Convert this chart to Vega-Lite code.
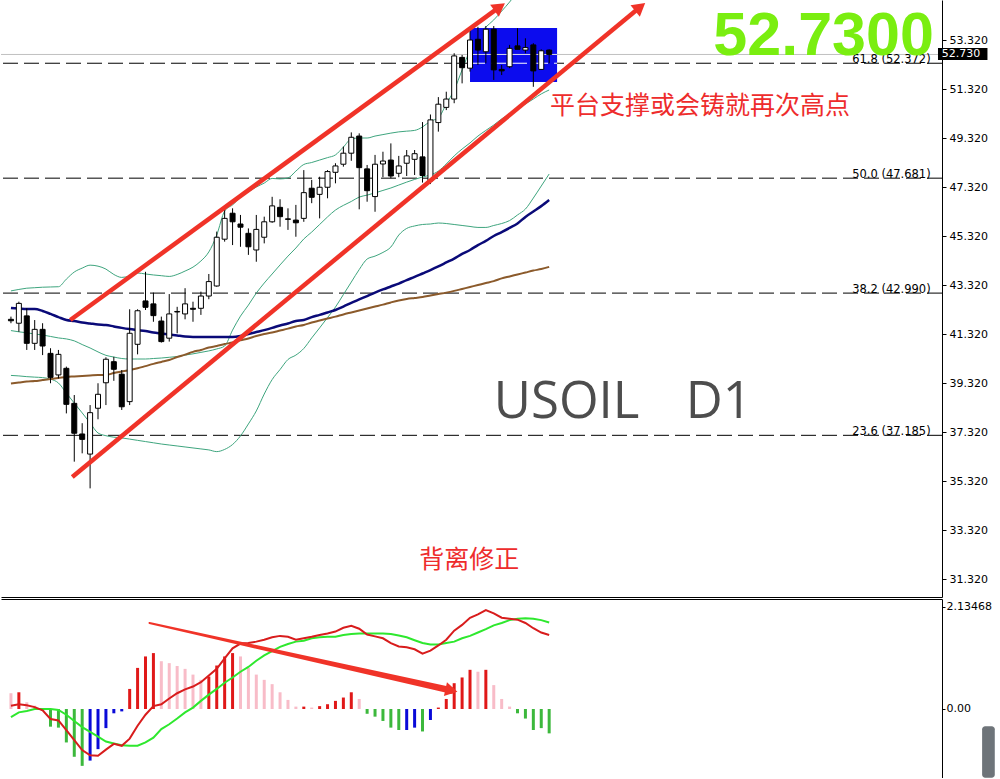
{
"$schema": "https://vega.github.io/schema/vega-lite/v6.json",
"padding": 0,
"background": "white",
"spacing": 2,
"config": {"view": {"stroke": null}, "font": "DejaVu Sans", "axis": {"grid": false}},
"datasets": {
"bars": [
{"i":0,"o":41.92,"h":42.03,"l":41.76,"c":41.86,"n":42.38,"b":39.30,"u":43.08,"m":41.46,"d":39.63,"macd":0.07,"sig":-0.17,"hist":0.33,"hc":"posDown"},
{"i":1,"o":41.76,"h":42.64,"l":41.41,"c":42.57,"n":42.36,"b":39.34,"u":43.14,"m":41.41,"d":39.61,"macd":0.10,"sig":-0.07,"hist":0.35,"hc":"posUp"},
{"i":2,"o":42.06,"h":42.37,"l":40.67,"c":40.94,"n":42.34,"b":39.38,"u":43.19,"m":41.37,"d":39.58,"macd":0.08,"sig":-0.04,"hist":0.14,"hc":"posDown"},
{"i":3,"o":40.94,"h":41.89,"l":40.67,"c":41.51,"n":42.34,"b":39.40,"u":43.21,"m":41.32,"d":39.56,"macd":0.04,"sig":0.00,"hist":0.07,"hc":"posDown"},
{"i":4,"o":41.51,"h":41.76,"l":40.46,"c":40.83,"n":42.26,"b":39.44,"u":43.23,"m":41.28,"d":39.54,"macd":-0.03,"sig":0.00,"hist":-0.04,"hc":"negDown"},
{"i":5,"o":40.53,"h":40.74,"l":39.31,"c":39.55,"n":42.14,"b":39.48,"u":43.24,"m":41.22,"d":39.48,"macd":-0.21,"sig":0.00,"hist":-0.37,"hc":"negDown"},
{"i":6,"o":39.65,"h":40.67,"l":39.51,"c":40.49,"n":42.01,"b":39.52,"u":43.25,"m":41.16,"d":39.32,"macd":-0.24,"sig":-0.02,"hist":-0.39,"hc":"negDown"},
{"i":7,"o":39.92,"h":39.99,"l":38.08,"c":38.45,"n":41.89,"b":39.57,"u":43.56,"m":41.12,"d":38.91,"macd":-0.44,"sig":-0.12,"hist":-0.70,"hc":"negDown"},
{"i":8,"o":38.49,"h":38.83,"l":36.11,"c":37.27,"n":41.85,"b":39.59,"u":43.85,"m":41.04,"d":38.50,"macd":-0.65,"sig":-0.25,"hist":-1.00,"hc":"negDown"},
{"i":9,"o":37.24,"h":37.68,"l":36.45,"c":37.02,"n":41.79,"b":39.61,"u":44.01,"m":40.89,"d":38.10,"macd":-0.86,"sig":-0.38,"hist":-1.19,"hc":"negDown"},
{"i":10,"o":36.42,"h":38.42,"l":35.02,"c":38.11,"n":41.75,"b":39.63,"u":44.13,"m":40.75,"d":37.69,"macd":-0.97,"sig":-0.48,"hist":-1.08,"hc":"negUp"},
{"i":11,"o":38.29,"h":39.31,"l":37.84,"c":38.86,"n":41.71,"b":39.65,"u":44.09,"m":40.59,"d":37.28,"macd":-0.98,"sig":-0.58,"hist":-0.84,"hc":"negUp"},
{"i":12,"o":39.33,"h":40.37,"l":38.42,"c":40.29,"n":41.69,"b":39.65,"u":43.97,"m":40.45,"d":37.17,"macd":-0.85,"sig":-0.68,"hist":-0.40,"hc":"negUp"},
{"i":13,"o":40.19,"h":40.39,"l":39.41,"c":39.88,"n":41.63,"b":39.73,"u":43.75,"m":40.38,"d":37.11,"macd":-0.73,"sig":-0.72,"hist":-0.09,"hc":"negUp"},
{"i":14,"o":39.68,"h":39.85,"l":38.22,"c":38.35,"n":41.57,"b":39.79,"u":43.63,"m":40.32,"d":37.08,"macd":-0.77,"sig":-0.76,"hist":-0.05,"hc":"negUp"},
{"i":15,"o":38.56,"h":42.33,"l":38.42,"c":41.35,"n":41.52,"b":39.85,"u":43.69,"m":40.30,"d":37.03,"macd":-0.62,"sig":-0.77,"hist":0.42,"hc":"posUp"},
{"i":16,"o":40.90,"h":42.33,"l":40.49,"c":42.27,"n":41.48,"b":39.92,"u":43.81,"m":40.30,"d":36.98,"macd":-0.35,"sig":-0.77,"hist":0.86,"hc":"posUp"},
{"i":17,"o":42.67,"h":43.86,"l":42.30,"c":42.41,"n":41.44,"b":40.01,"u":43.77,"m":40.30,"d":36.93,"macd":-0.12,"sig":-0.70,"hist":1.10,"hc":"posUp"},
{"i":18,"o":42.55,"h":43.01,"l":41.82,"c":42.07,"n":41.38,"b":40.10,"u":43.73,"m":40.32,"d":36.88,"macd":0.06,"sig":-0.60,"hist":1.17,"hc":"posUp"},
{"i":19,"o":41.85,"h":42.03,"l":40.97,"c":41.01,"n":41.34,"b":40.18,"u":43.70,"m":40.34,"d":36.83,"macd":0.10,"sig":-0.42,"hist":1.00,"hc":"posDown"},
{"i":20,"o":41.15,"h":42.95,"l":41.01,"c":42.14,"n":41.30,"b":40.26,"u":43.67,"m":40.37,"d":36.79,"macd":0.22,"sig":-0.32,"hist":0.96,"hc":"posDown"},
{"i":21,"o":42.22,"h":42.43,"l":41.35,"c":42.24,"n":41.26,"b":40.38,"u":43.75,"m":40.40,"d":36.75,"macd":0.33,"sig":-0.20,"hist":0.90,"hc":"posDown"},
{"i":22,"o":42.14,"h":43.19,"l":41.92,"c":42.55,"n":41.22,"b":40.48,"u":43.89,"m":40.46,"d":36.71,"macd":0.41,"sig":-0.07,"hist":0.84,"hc":"posDown"},
{"i":23,"o":42.37,"h":42.64,"l":41.82,"c":42.33,"n":41.20,"b":40.59,"u":44.05,"m":40.51,"d":36.67,"macd":0.47,"sig":0.03,"hist":0.72,"hc":"posDown"},
{"i":24,"o":42.37,"h":43.05,"l":42.10,"c":42.87,"n":41.20,"b":40.67,"u":44.30,"m":40.57,"d":36.63,"macd":0.56,"sig":0.17,"hist":0.61,"hc":"posDown"},
{"i":25,"o":42.87,"h":43.77,"l":42.74,"c":43.46,"n":41.20,"b":40.77,"u":44.67,"m":40.63,"d":36.59,"macd":0.70,"sig":0.30,"hist":0.68,"hc":"posUp"},
{"i":26,"o":43.28,"h":45.50,"l":43.25,"c":45.27,"n":41.20,"b":40.83,"u":45.36,"m":40.71,"d":36.52,"macd":0.84,"sig":0.42,"hist":0.91,"hc":"posUp"},
{"i":27,"o":45.19,"h":46.45,"l":45.09,"c":46.04,"n":41.20,"b":40.91,"u":46.34,"m":40.83,"d":36.61,"macd":1.06,"sig":0.55,"hist":1.10,"hc":"posUp"},
{"i":28,"o":46.25,"h":46.45,"l":44.95,"c":45.90,"n":41.20,"b":40.97,"u":46.59,"m":41.48,"d":36.81,"macd":1.27,"sig":0.66,"hist":1.17,"hc":"posUp"},
{"i":29,"o":45.81,"h":46.18,"l":44.88,"c":45.68,"n":41.24,"b":41.06,"u":46.89,"m":42.05,"d":37.16,"macd":1.37,"sig":0.78,"hist":1.10,"hc":"posDown"},
{"i":30,"o":45.43,"h":45.63,"l":44.55,"c":44.88,"n":41.32,"b":41.14,"u":47.12,"m":42.50,"d":37.65,"macd":1.38,"sig":0.88,"hist":0.86,"hc":"posDown"},
{"i":31,"o":44.75,"h":46.18,"l":44.27,"c":45.59,"n":41.40,"b":41.24,"u":47.32,"m":42.99,"d":38.18,"macd":1.41,"sig":1.01,"hist":0.72,"hc":"posDown"},
{"i":32,"o":45.27,"h":46.11,"l":45.02,"c":45.90,"n":41.48,"b":41.32,"u":47.48,"m":43.40,"d":38.87,"macd":1.45,"sig":1.12,"hist":0.61,"hc":"posDown"},
{"i":33,"o":45.90,"h":46.92,"l":45.86,"c":46.55,"n":41.57,"b":41.38,"u":47.67,"m":43.77,"d":39.46,"macd":1.50,"sig":1.21,"hist":0.52,"hc":"posDown"},
{"i":34,"o":46.49,"h":46.82,"l":45.70,"c":46.11,"n":41.67,"b":41.46,"u":47.65,"m":44.14,"d":39.87,"macd":1.53,"sig":1.30,"hist":0.35,"hc":"posDown"},
{"i":35,"o":46.02,"h":46.45,"l":45.57,"c":46.00,"n":41.75,"b":41.54,"u":47.69,"m":44.50,"d":40.28,"macd":1.51,"sig":1.36,"hist":0.19,"hc":"posDown"},
{"i":36,"o":45.97,"h":46.59,"l":45.29,"c":45.86,"n":41.85,"b":41.63,"u":47.97,"m":44.83,"d":40.46,"macd":1.45,"sig":1.41,"hist":0.05,"hc":"posDown"},
{"i":37,"o":46.04,"h":48.01,"l":45.90,"c":47.09,"n":41.89,"b":41.69,"u":48.24,"m":45.20,"d":40.73,"macd":1.48,"sig":1.43,"hist":0.05,"hc":"posUp"},
{"i":38,"o":47.27,"h":47.61,"l":46.66,"c":46.90,"n":42.01,"b":41.79,"u":48.32,"m":45.48,"d":41.16,"macd":1.51,"sig":1.48,"hist":0.03,"hc":"posDown"},
{"i":39,"o":47.02,"h":47.74,"l":46.04,"c":47.31,"n":42.10,"b":41.87,"u":48.42,"m":45.79,"d":41.57,"macd":1.55,"sig":1.50,"hist":0.06,"hc":"posUp"},
{"i":40,"o":47.31,"h":48.01,"l":46.86,"c":47.95,"n":42.20,"b":41.95,"u":48.52,"m":46.10,"d":41.99,"macd":1.58,"sig":1.51,"hist":0.10,"hc":"posUp"},
{"i":41,"o":47.92,"h":48.29,"l":47.47,"c":48.18,"n":42.30,"b":42.03,"u":48.63,"m":46.38,"d":42.42,"macd":1.62,"sig":1.51,"hist":0.17,"hc":"posUp"},
{"i":42,"o":48.25,"h":48.97,"l":48.15,"c":48.70,"n":42.44,"b":42.12,"u":48.95,"m":46.57,"d":42.93,"macd":1.70,"sig":1.55,"hist":0.24,"hc":"posUp"},
{"i":43,"o":48.70,"h":49.55,"l":48.39,"c":49.35,"n":42.59,"b":42.20,"u":49.28,"m":46.73,"d":43.44,"macd":1.74,"sig":1.57,"hist":0.35,"hc":"posUp"},
{"i":44,"o":49.40,"h":49.51,"l":46.41,"c":48.11,"n":42.73,"b":42.28,"u":49.32,"m":46.91,"d":43.95,"macd":1.68,"sig":1.58,"hist":0.21,"hc":"posDown"},
{"i":45,"o":48.06,"h":48.22,"l":46.72,"c":47.17,"n":42.87,"b":42.36,"u":49.32,"m":46.99,"d":44.38,"macd":1.56,"sig":1.58,"hist":-0.10,"hc":"negDown"},
{"i":46,"o":46.93,"h":48.63,"l":46.31,"c":48.25,"n":43.01,"b":42.44,"u":49.40,"m":47.08,"d":44.50,"macd":1.52,"sig":1.58,"hist":-0.16,"hc":"negDown"},
{"i":47,"o":48.26,"h":48.76,"l":47.72,"c":48.38,"n":43.14,"b":42.52,"u":49.46,"m":47.18,"d":44.65,"macd":1.48,"sig":1.58,"hist":-0.25,"hc":"negDown"},
{"i":48,"o":48.42,"h":49.10,"l":47.68,"c":47.77,"n":43.26,"b":42.61,"u":49.52,"m":47.28,"d":44.87,"macd":1.38,"sig":1.57,"hist":-0.39,"hc":"negDown"},
{"i":49,"o":47.88,"h":48.59,"l":47.72,"c":48.18,"n":43.38,"b":42.69,"u":49.57,"m":47.40,"d":45.36,"macd":1.31,"sig":1.54,"hist":-0.44,"hc":"negDown"},
{"i":50,"o":48.29,"h":48.83,"l":47.77,"c":48.59,"n":43.52,"b":42.75,"u":49.60,"m":47.52,"d":45.63,"macd":1.29,"sig":1.50,"hist":-0.44,"hc":"negUp"},
{"i":51,"o":48.45,"h":48.83,"l":47.81,"c":48.68,"n":43.65,"b":42.79,"u":49.63,"m":47.63,"d":45.73,"macd":1.25,"sig":1.44,"hist":-0.39,"hc":"negUp"},
{"i":52,"o":48.55,"h":49.97,"l":47.50,"c":47.79,"n":43.79,"b":42.83,"u":49.77,"m":47.73,"d":45.79,"macd":1.16,"sig":1.38,"hist":-0.47,"hc":"negDown"},
{"i":53,"o":47.57,"h":50.28,"l":47.44,"c":50.06,"n":43.93,"b":42.89,"u":50.01,"m":47.81,"d":45.81,"macd":1.22,"sig":1.35,"hist":-0.23,"hc":"negUp"},
{"i":54,"o":49.95,"h":50.99,"l":49.58,"c":50.70,"n":44.08,"b":42.95,"u":50.14,"m":47.97,"d":45.85,"macd":1.33,"sig":1.35,"hist":0.03,"hc":"posUp"},
{"i":55,"o":50.57,"h":51.21,"l":50.46,"c":50.91,"n":44.24,"b":43.01,"u":50.71,"m":48.26,"d":45.83,"macd":1.45,"sig":1.38,"hist":0.21,"hc":"posUp"},
{"i":56,"o":50.91,"h":52.78,"l":50.74,"c":52.67,"n":44.40,"b":43.08,"u":51.28,"m":48.59,"d":45.79,"macd":1.64,"sig":1.41,"hist":0.54,"hc":"posUp"},
{"i":57,"o":52.61,"h":52.71,"l":51.55,"c":52.19,"n":44.59,"b":43.16,"u":52.10,"m":48.87,"d":45.75,"macd":1.76,"sig":1.48,"hist":0.66,"hc":"posUp"},
{"i":58,"o":52.17,"h":53.73,"l":52.03,"c":53.32,"n":44.75,"b":43.24,"u":52.91,"m":49.12,"d":45.71,"macd":1.91,"sig":1.53,"hist":0.82,"hc":"posUp"},
{"i":59,"o":53.35,"h":53.86,"l":52.30,"c":52.91,"n":44.95,"b":43.32,"u":53.52,"m":49.40,"d":45.67,"macd":1.98,"sig":1.60,"hist":0.78,"hc":"posDown"},
{"i":60,"o":52.84,"h":53.89,"l":52.37,"c":53.76,"n":45.12,"b":43.40,"u":53.85,"m":49.63,"d":45.67,"macd":2.07,"sig":1.67,"hist":0.82,"hc":"posUp"},
{"i":61,"o":53.76,"h":53.89,"l":51.69,"c":52.10,"n":45.32,"b":43.48,"u":54.14,"m":49.85,"d":45.75,"macd":2.00,"sig":1.75,"hist":0.50,"hc":"posDown"},
{"i":62,"o":52.12,"h":52.30,"l":51.89,"c":52.06,"n":45.48,"b":43.59,"u":54.50,"m":50.10,"d":45.83,"macd":1.91,"sig":1.80,"hist":0.21,"hc":"posDown"},
{"i":63,"o":52.23,"h":53.12,"l":52.17,"c":52.98,"n":45.65,"b":43.67,"u":54.87,"m":50.30,"d":45.95,"macd":1.89,"sig":1.86,"hist":0.05,"hc":"posDown"},
{"i":64,"o":53.08,"h":53.80,"l":52.94,"c":52.94,"n":45.83,"b":43.75,"u":55.28,"m":50.50,"d":46.18,"macd":1.87,"sig":1.89,"hist":-0.09,"hc":"negDown"},
{"i":65,"o":52.91,"h":53.39,"l":52.78,"c":53.01,"n":46.10,"b":43.83,"u":55.61,"m":50.71,"d":46.42,"macd":1.80,"sig":1.90,"hist":-0.20,"hc":"negDown"},
{"i":66,"o":53.12,"h":53.19,"l":51.41,"c":52.06,"n":46.32,"b":43.91,"u":55.85,"m":50.91,"d":46.87,"macd":1.69,"sig":1.89,"hist":-0.44,"hc":"negDown"},
{"i":67,"o":52.12,"h":52.94,"l":52.10,"c":52.88,"n":46.54,"b":43.97,"u":56.10,"m":51.12,"d":47.36,"macd":1.60,"sig":1.86,"hist":-0.40,"hc":"negDown"},
{"i":68,"o":52.91,"h":52.94,"l":52.37,"c":52.73,"n":46.79,"b":44.06,"u":56.34,"m":51.28,"d":47.85,"macd":1.55,"sig":1.81,"hist":-0.51,"hc":"negDown"}
],
"fib": [
{"p":52.372,"label":"61.8 (52.372)"},
{"p":47.681,"label":"50.0 (47.681)"},
{"p":42.990,"label":"38.2 (42.990)"},
{"p":37.185,"label":"23.6 (37.185)"}
],
"channel": [
{"line":"upper","i":7.5,"p":41.89},
{"line":"upper","i":61.75,"p":54.67},
{"line":"lower","i":7.75,"p":35.48},
{"line":"lower","i":79.5,"p":54.67}
]
},
"vconcat": [
{
"width": 941,
"height": 597,
"layer": [
{
"data": {"name": "bars"},
"mark": {"type": "rule", "color": "#000000", "strokeWidth": 1},
"encoding": {
"x": {"field": "i", "type": "quantitative", "scale": {"domain": [-0.625, 117], "nice": false, "zero": false},
"axis": {"orient": "bottom", "labels": false, "ticks": false, "grid": false, "title": null, "domainColor": "#000000"}},
"y": {"field": "l", "type": "quantitative", "scale": {"domain": [30.586, 54.953], "nice": false, "zero": false},
"axis": {"orient": "right", "values": [31.32, 33.32, 35.32, 37.32, 39.32, 41.32, 43.32, 45.32, 47.32, 49.32, 51.32, 53.32], "format": ".3f", "grid": false, "title": null, "tickSize": 4, "labelPadding": 3, "labelFont": "DejaVu Sans", "labelFontSize": 11, "labelColor": "#000000", "domainColor": "#000000", "tickColor": "#000000"}},
"y2": {"field": "l"}
}
},
{
"data": {"name": "fib"},
"mark": {"type": "rule", "color": "#000000", "strokeWidth": 1, "strokeDash": [15, 6]},
"encoding": {
"y": {"field": "p", "type": "quantitative", "scale": {"domain": [30.586, 54.953], "nice": false, "zero": false}}
}
},
{
"data": {"values": [{"p": 52.73}]},
"mark": {"type": "rule", "color": "#c0c0c0", "strokeWidth": 1},
"encoding": {"y": {"field": "p", "type": "quantitative", "scale": {"domain": [30.586, 54.953], "nice": false, "zero": false}}}
},
{
"data": {"name": "bars"},
"encoding": {
"x": {"field": "i", "type": "quantitative", "scale": {"domain": [-0.625, 117], "nice": false, "zero": false}}
},
"layer": [
{"mark": {"type": "line", "color": "#3ea57e", "strokeWidth": 1, "clip": true, "interpolate": "monotone"},
 "encoding": {"y": {"field": "u", "type": "quantitative", "scale": {"domain": [30.586, 54.953], "nice": false, "zero": false}}}},
{"mark": {"type": "line", "color": "#3ea57e", "strokeWidth": 1, "clip": true, "interpolate": "monotone"},
 "encoding": {"y": {"field": "m", "type": "quantitative", "scale": {"domain": [30.586, 54.953], "nice": false, "zero": false}}}},
{"mark": {"type": "line", "color": "#3ea57e", "strokeWidth": 1, "clip": true, "interpolate": "monotone"},
 "encoding": {"y": {"field": "d", "type": "quantitative", "scale": {"domain": [30.586, 54.953], "nice": false, "zero": false}}}},
{"mark": {"type": "line", "color": "#8b5a2b", "strokeWidth": 2, "clip": true, "interpolate": "monotone"},
 "encoding": {"y": {"field": "b", "type": "quantitative", "scale": {"domain": [30.586, 54.953], "nice": false, "zero": false}}}},
{"mark": {"type": "line", "color": "#0a0a78", "strokeWidth": 2.5, "clip": true, "interpolate": "monotone"},
 "encoding": {"y": {"field": "n", "type": "quantitative", "scale": {"domain": [30.586, 54.953], "nice": false, "zero": false}}}}
]
},
{
"data": {"values": [{"i1": 58, "i2": 69, "p1": 53.81, "p2": 51.61}]},
"mark": {"type": "rect", "color": "#0c0cee"},
"encoding": {
"x": {"field": "i1", "type": "quantitative", "scale": {"domain": [-0.625, 117], "nice": false, "zero": false}},
"x2": {"field": "i2"},
"y": {"field": "p1", "type": "quantitative", "scale": {"domain": [30.586, 54.953], "nice": false, "zero": false}},
"y2": {"field": "p2"}
}
},
{
"data": {"values": [{"i1": 58, "i2": 69, "p": 52.372}]},
"mark": {"type": "rule", "color": "#ffffff", "strokeWidth": 1, "strokeDash": [15, 6]},
"encoding": {
"x": {"field": "i1", "type": "quantitative", "scale": {"domain": [-0.625, 117], "nice": false, "zero": false}},
"x2": {"field": "i2"},
"y": {"field": "p", "type": "quantitative", "scale": {"domain": [30.586, 54.953], "nice": false, "zero": false}}
}
},
{
"data": {"values": [{"i1": 58, "i2": 69, "p": 52.73}]},
"mark": {"type": "rule", "color": "#d8d8e8", "strokeWidth": 1},
"encoding": {
"x": {"field": "i1", "type": "quantitative", "scale": {"domain": [-0.625, 117], "nice": false, "zero": false}},
"x2": {"field": "i2"},
"y": {"field": "p", "type": "quantitative", "scale": {"domain": [30.586, 54.953], "nice": false, "zero": false}}
}
},
{
"data": {"name": "bars"},
"mark": {"type": "rule", "color": "#000000", "strokeWidth": 1},
"encoding": {
"x": {"field": "i", "type": "quantitative", "scale": {"domain": [-0.625, 117], "nice": false, "zero": false}},
"y": {"field": "l", "type": "quantitative", "scale": {"domain": [30.586, 54.953], "nice": false, "zero": false}},
"y2": {"field": "h"}
}
},
{
"data": {"name": "bars"},
"mark": {"type": "bar", "size": 5, "stroke": "#000000", "strokeWidth": 1},
"encoding": {
"x": {"field": "i", "type": "quantitative", "scale": {"domain": [-0.625, 117], "nice": false, "zero": false}},
"y": {"field": "o", "type": "quantitative", "scale": {"domain": [30.586, 54.953], "nice": false, "zero": false}},
"y2": {"field": "c"},
"fill": {"condition": {"test": "datum.c >= datum.o", "value": "#ffffff"}, "value": "#000000"}
}
},
{
"data": {"name": "channel"},
"mark": {"type": "line", "color": "#f03328", "strokeWidth": 4.5, "clip": true},
"encoding": {
"x": {"field": "i", "type": "quantitative", "scale": {"domain": [-0.625, 117], "nice": false, "zero": false}},
"y": {"field": "p", "type": "quantitative", "scale": {"domain": [30.586, 54.953], "nice": false, "zero": false}},
"detail": {"field": "line"}
}
},
{
"data": {"values": [{"i": 61.75, "p": 54.67}]},
"mark": {"type": "point", "shape": "triangle-up", "filled": true, "color": "#f03328", "size": 220, "angle": 54, "opacity": 1, "clip": true},
"encoding": {
"x": {"field": "i", "type": "quantitative", "scale": {"domain": [-0.625, 117], "nice": false, "zero": false}},
"y": {"field": "p", "type": "quantitative", "scale": {"domain": [30.586, 54.953], "nice": false, "zero": false}}
}
},
{
"data": {"values": [{"i": 79.5, "p": 54.67}]},
"mark": {"type": "point", "shape": "triangle-up", "filled": true, "color": "#f03328", "size": 220, "angle": 51, "opacity": 1, "clip": true},
"encoding": {
"x": {"field": "i", "type": "quantitative", "scale": {"domain": [-0.625, 117], "nice": false, "zero": false}},
"y": {"field": "p", "type": "quantitative", "scale": {"domain": [30.586, 54.953], "nice": false, "zero": false}}
}
},
{
"data": {"name": "fib"},
"mark": {"type": "text", "align": "right", "baseline": "alphabetic", "font": "DejaVu Sans", "fontSize": 11.5, "color": "#000000"},
"encoding": {
"x": {"datum": 116.2, "type": "quantitative", "scale": {"domain": [-0.625, 117], "nice": false, "zero": false}},
"y": {"field": "p", "type": "quantitative", "scale": {"domain": [30.586, 54.953], "nice": false, "zero": false}},
"text": {"field": "label"}
}
},
{
"data": {"values": [{"i": 68.1, "p": 50.61, "t": "平台支撑或会铸就再次高点"}, {"i": 51.6, "p": 32.10, "t": "背离修正"}]},
"mark": {"type": "text", "align": "left", "baseline": "middle", "font": "Noto Sans CJK SC", "fontSize": 25, "color": "#ee2c2c"},
"encoding": {
"x": {"field": "i", "type": "quantitative", "scale": {"domain": [-0.625, 117], "nice": false, "zero": false}},
"y": {"field": "p", "type": "quantitative", "scale": {"domain": [30.586, 54.953], "nice": false, "zero": false}},
"text": {"field": "t"}
}
},
{
"data": {"values": [{"i": 61.0, "p": 37.89, "t": "USOIL"}, {"i": 85.25, "p": 37.89, "t": "D1"}]},
"mark": {"type": "text", "align": "left", "baseline": "alphabetic", "font": "Open Sans", "fontSize": 51, "color": "#4d4d4d"},
"encoding": {
"x": {"field": "i", "type": "quantitative", "scale": {"domain": [-0.625, 117], "nice": false, "zero": false}},
"y": {"field": "p", "type": "quantitative", "scale": {"domain": [30.586, 54.953], "nice": false, "zero": false}},
"text": {"field": "t"}
}
},
{
"data": {"values": [{"i": 116.6, "p": 52.71, "t": "52.7300"}]},
"mark": {"type": "text", "align": "right", "baseline": "alphabetic", "font": "Liberation Sans", "fontWeight": "bold", "fontSize": 61, "color": "#7aee10"},
"encoding": {
"x": {"field": "i", "type": "quantitative", "scale": {"domain": [-0.625, 117], "nice": false, "zero": false}},
"y": {"field": "p", "type": "quantitative", "scale": {"domain": [30.586, 54.953], "nice": false, "zero": false}},
"text": {"field": "t"}
}
},
{
"data": {"values": [{"i1": 117.125, "i2": 123.375, "p1": 52.994, "p2": 52.504}]},
"mark": {"type": "rect", "color": "#000000", "clip": false},
"encoding": {
"x": {"field": "i1", "type": "quantitative", "scale": {"domain": [-0.625, 117], "nice": false, "zero": false}},
"x2": {"field": "i2"},
"y": {"field": "p1", "type": "quantitative", "scale": {"domain": [30.586, 54.953], "nice": false, "zero": false}},
"y2": {"field": "p2"}
}
},
{
"data": {"values": [{"i": 117.6, "p": 52.73, "t": "52.730"}]},
"mark": {"type": "text", "align": "left", "baseline": "middle", "font": "DejaVu Sans", "fontSize": 11, "color": "#ffffff", "clip": false},
"encoding": {
"x": {"field": "i", "type": "quantitative", "scale": {"domain": [-0.625, 117], "nice": false, "zero": false}},
"y": {"field": "p", "type": "quantitative", "scale": {"domain": [30.586, 54.953], "nice": false, "zero": false}},
"text": {"field": "t"}
}
}
]
},
{
"width": 941,
"height": 179,
"layer": [
{
"data": {"name": "bars"},
"mark": {"type": "bar", "size": 3},
"encoding": {
"x": {"field": "i", "type": "quantitative", "scale": {"domain": [-0.625, 117], "nice": false, "zero": false},
"axis": {"orient": "top", "labels": false, "ticks": false, "grid": false, "title": null, "domainColor": "#000000"}},
"y": {"field": "hist", "type": "quantitative", "scale": {"domain": [-1.444, 2.302], "nice": false, "zero": false},
"axis": {"orient": "right", "values": [0, 2.13468], "labelExpr": "datum.value == 0 ? '0.00' : '2.13468'", "grid": false, "title": null, "tickSize": 3, "labelPadding": 1, "labelFont": "DejaVu Sans", "labelFontSize": 11, "labelColor": "#000000", "domainColor": "#000000", "tickColor": "#000000"}},
"y2": {"datum": 0},
"color": {"field": "hc", "type": "nominal", "scale": {"domain": ["posUp", "posDown", "negDown", "negUp"], "range": ["#e01818", "#f8bcc8", "#3cb83c", "#0a0ad8"]}, "legend": null}
}
},
{
"data": {"name": "bars"},
"mark": {"type": "line", "color": "#2ee82e", "strokeWidth": 2},
"encoding": {
"x": {"field": "i", "type": "quantitative", "scale": {"domain": [-0.625, 117], "nice": false, "zero": false}},
"y": {"field": "sig", "type": "quantitative", "scale": {"domain": [-1.444, 2.302], "nice": false, "zero": false}}
}
},
{
"data": {"name": "bars"},
"mark": {"type": "line", "color": "#d81c1c", "strokeWidth": 2},
"encoding": {
"x": {"field": "i", "type": "quantitative", "scale": {"domain": [-0.625, 117], "nice": false, "zero": false}},
"y": {"field": "macd", "type": "quantitative", "scale": {"domain": [-1.444, 2.302], "nice": false, "zero": false}}
}
},
{
"data": {"values": [{"i": 17.5, "v": 1.80}, {"i": 55.65, "v": 0.387}]},
"mark": {"type": "trail", "color": "#f03328"},
"encoding": {
"x": {"field": "i", "type": "quantitative", "scale": {"domain": [-0.625, 117], "nice": false, "zero": false}},
"y": {"field": "v", "type": "quantitative", "scale": {"domain": [-1.444, 2.302], "nice": false, "zero": false}},
"size": {"field": "i", "type": "quantitative", "scale": {"range": [2, 6.5], "zero": false}, "legend": null}
}
},
{
"data": {"values": [{"i": 55.65, "v": 0.387}]},
"mark": {"type": "point", "shape": "triangle-up", "filled": true, "color": "#f03328", "size": 200, "angle": 102.5, "opacity": 1},
"encoding": {
"x": {"field": "i", "type": "quantitative", "scale": {"domain": [-0.625, 117], "nice": false, "zero": false}},
"y": {"field": "v", "type": "quantitative", "scale": {"domain": [-1.444, 2.302], "nice": false, "zero": false}}
}
},
{
"data": {"values": [{"i1": 122.7, "i2": 124.3, "v1": -0.36, "v2": -1.44}]},
"mark": {"type": "rect", "color": "#6e7479", "cornerRadius": 3, "clip": false},
"encoding": {
"x": {"field": "i1", "type": "quantitative", "scale": {"domain": [-0.625, 117], "nice": false, "zero": false}},
"x2": {"field": "i2"},
"y": {"field": "v1", "type": "quantitative", "scale": {"domain": [-1.444, 2.302], "nice": false, "zero": false}},
"y2": {"field": "v2"}
}
}
]
}
]
}
